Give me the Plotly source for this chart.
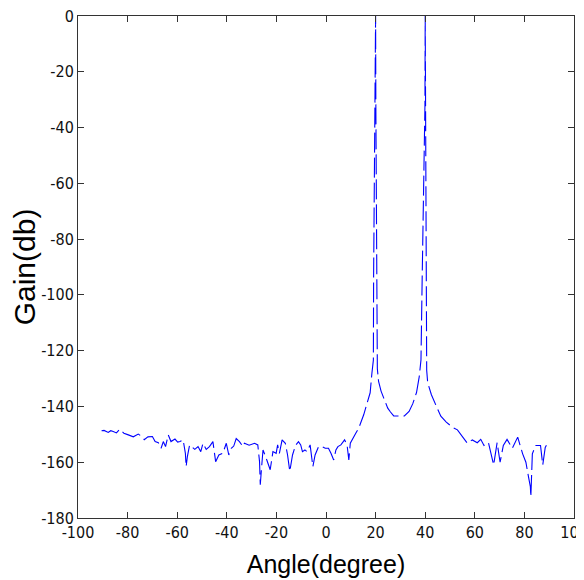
import plotly.graph_objects as go

angle_deg = [
    -90.5, -89.5, -87.8, -86.8, -85.8, -84.5, -83.2,
    -81.5, -79.7, -77.7, -75.7, -74.4, -73.3, -71.8,
    -70.0, -68.9, -67.6, -66.5, -65.6, -64.7, -63.6, -62.5, -60.9, -59.8, -58.9, -57.6,
    -56.7, -56.4, -55.9, -55.0, -53.9, -52.9, -51.6, -50.5, -49.6, -48.3, -47.0, -45.6,
    -44.5, -43.2, -41.6, -40.2, -39.2, -38.2, -37.2, -36.2, -34.9, -33.5, -32.9, -31.0,
    -28.8, -27.5, -26.8, -26.5, -26.1, -25.4, -24.1, -22.5, -21.4, -20.1, -19.5, -18.8,
    -17.7, -16.4, -15.5, -14.6, -13.5, -12.3, -11.1, -10.2, -9.5, -8.5, -7.7, -6.4,
    -5.3, -4.4, -3.0, -1.7, -0.3, 1.0, 2.0, 3.1, 4.0, 4.8, 6.0, 7.5, 8.5, 9.2, 9.8,
    10.9, 12.0, 13.2, 15.2, 16.5, 17.8, 18.5, 19.1, 19.2, 19.9, 20.0, 20.1, 20.6,
    20.7, 21.2, 22.2, 23.3, 24.9, 26.0, 27.3, 31.6, 33.5, 35.0, 36.5, 37.6, 38.3,
    38.8, 39.9, 40.0, 40.1, 40.4, 40.6, 41.0, 42.5, 44.3, 46.3, 48.5, 51.0, 53.0,
    55.0, 57.0, 59.0, 61.0, 62.4, 63.7, 65.5, 67.6, 69.0, 70.2, 71.5, 73.0, 75.1,
    77.3, 79.3, 80.6, 81.6, 82.4, 82.6, 83.2, 84.5, 86.5, 87.4, 88.4, 89.4, 90.0,
]

gain_db = [
    -148.7, -148.6, -149.3, -148.7, -149.0, -149.5, -148.2,
    -149.6, -150.2, -150.9, -149.9, -150.7, -151.9, -150.9,
    -150.8, -152.6, -153.0, -155.0, -152.6, -154.4, -150.2, -152.6, -151.7, -152.8, -152.6, -152.0,
    -156.8, -161.6, -158.0, -153.8, -154.6, -155.4, -154.4, -156.2, -153.2, -155.4, -154.4, -152.6,
    -159.8, -157.4, -156.8, -153.2, -157.4, -155.0, -154.2, -151.5, -152.6, -154.4, -153.2, -153.9,
    -153.2, -153.8, -159.8, -168.1, -163.3, -155.6, -158.6, -162.7, -156.2, -156.8, -153.8, -156.8,
    -152.0, -153.2, -157.4, -163.3, -157.4, -154.0, -152.6, -153.8, -156.2, -155.6, -156.2, -153.8,
    -161.6, -157.4, -154.4, -154.4, -155.0, -155.0, -156.8, -159.2, -155.6, -154.4, -153.8, -152.0, -153.8, -159.2, -153.2,
    -151.1, -149.6, -147.8, -143.0, -139.0, -135.1, -128.2, -123.4, -93.0, -32.0, 0.0, -32.0, -93.0,
    -126.5, -131.0, -134.5, -137.0, -140.6, -142.0, -143.4, -143.4, -141.8, -139.0, -135.0, -129.3, -123.3,
    -93.0, -32.0, 0.0, -32.0, -93.0, -127.0, -131.5, -135.8, -139.5, -143.5, -145.6, -147.5, -148.4,
    -150.8, -153.2, -152.0, -153.0, -151.8, -154.0, -153.0, -161.0, -153.0, -160.0, -154.0, -151.8, -155.0,
    -151.0, -157.0, -160.0, -165.0, -168.8, -172.4, -157.0, -154.0, -154.0, -161.0, -154.7, -153.0, -153.2,
]

x_ticks = [-100, -80, -60, -40, -20, 0, 20, 40, 60, 80, 100]
y_ticks = [-180, -160, -140, -120, -100, -80, -60, -40, -20, 0]

fig = go.Figure()
fig.add_trace(go.Scatter(
    x=angle_deg, y=gain_db, mode="lines",
    line=dict(color="#0000ff", width=1.1, dash="20px,5px"),
    showlegend=False,
))

font_tick = "Liberation Sans Narrow, DejaVu Sans Condensed, Liberation Sans, Arial, sans-serif"
font_title = "Liberation Sans, Arial, sans-serif"

# page body adds an 8px offset; margins compensate for it
fig.update_layout(
    width=584, height=580,
    margin=dict(l=70, r=18, t=8, b=70),
    paper_bgcolor="white", plot_bgcolor="white",
    font=dict(family=font_tick, color="black", size=16),
)
fig.update_xaxes(
    range=[-100, 100], tickvals=x_ticks, ticktext=[str(v) for v in x_ticks],
    ticks="inside", ticklen=6, tickcolor="#333", linecolor="#333", linewidth=1,
    mirror="ticks", showline=True, showgrid=False, zeroline=False,
    automargin=False, ticklabeloverflow="allow",
    tickfont=dict(size=16, family=font_tick, color="#111"),
    title=dict(text="Angle(degree)", font=dict(size=25, family=font_title), standoff=14),
)
fig.update_yaxes(
    range=[-180, 0], tickvals=y_ticks, ticktext=[str(v) for v in y_ticks],
    ticks="inside", ticklen=6, tickcolor="#333", linecolor="#333", linewidth=1,
    mirror="ticks", showline=True, showgrid=False, zeroline=False,
    automargin=False, ticklabeloverflow="allow",
    tickfont=dict(size=16, family=font_tick, color="#111"),
    title=dict(text="Gain(db)", font=dict(size=30, family=font_title), standoff=8),
)

fig.write_html("out.html")
